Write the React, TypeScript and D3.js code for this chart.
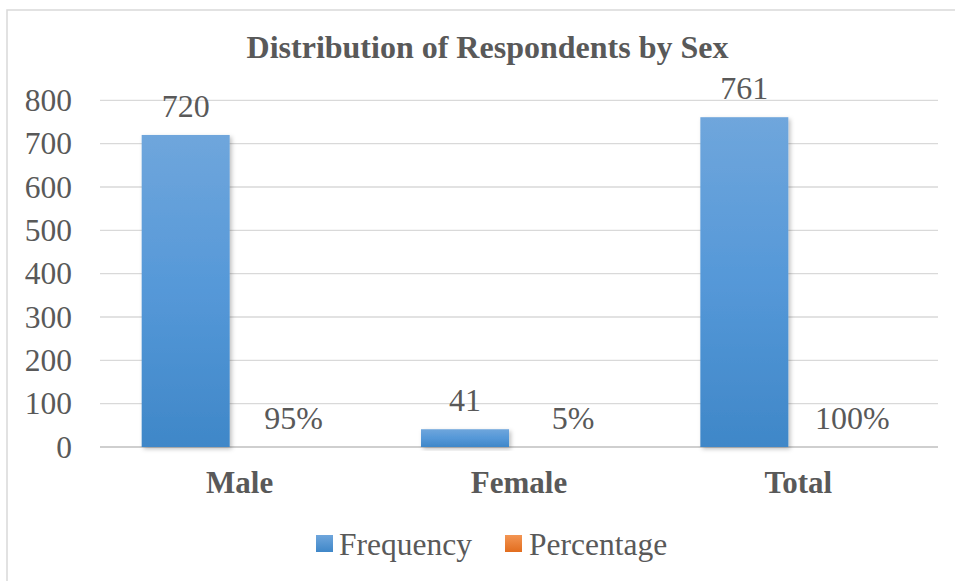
import React, { useEffect } from "react";
import * as d3 from "d3";

const categories = ["Male", "Female", "Total"];
const seriesNames = ["Frequency", "Percentage"];
const frequency = [720, 41, 761];
const percentage = [0.95, 0.05, 1.0];
const percentageLabels = ["95%", "5%", "100%"];
const yTicks = [0, 100, 200, 300, 400, 500, 600, 700, 800];
const title = "Distribution of Respondents by Sex";

const W = 955;
const H = 581;
const FONT = "Liberation Serif";
const TEXT = "#595959";

export default function App() {
  useEffect(() => {
    document.body.style.margin = "0";
  }, []);

  const y = d3.scaleLinear().domain([0, 800]).range([447, 100.3]);
  const x0 = d3.scaleBand<string>().domain(categories).range([100, 938]).padding(0);
  const x1 = d3
    .scaleBand<string>()
    .domain(seriesNames)
    .range([0, x0.bandwidth()])
    .paddingInner(0.185)
    .paddingOuter(0.386);

  const series = [
    { name: "Frequency", values: frequency, labels: frequency.map(String), fill: "url(#gBlue)" },
    { name: "Percentage", values: percentage, labels: percentageLabels, fill: "url(#gOrange)" },
  ];

  const txt = { fontFamily: FONT, fill: TEXT } as React.CSSProperties;

  return (
    <svg width={W} height={H} style={{ display: "block" }}>
      <defs>
        <linearGradient id="gBlue" x1="0" y1="0" x2="0" y2="1">
          <stop offset="0%" stopColor="#6fa6dc" />
          <stop offset="50%" stopColor="#5598d8" />
          <stop offset="100%" stopColor="#3f87c8" />
        </linearGradient>
        <linearGradient id="gOrange" x1="0" y1="0" x2="0" y2="1">
          <stop offset="0%" stopColor="#f39553" />
          <stop offset="100%" stopColor="#e26d1e" />
        </linearGradient>
        <linearGradient id="gLegBlue" x1="0" y1="0" x2="0" y2="1">
          <stop offset="0%" stopColor="#6fa6dc" />
          <stop offset="100%" stopColor="#3f87c8" />
        </linearGradient>
        <filter id="shadow" x="-20%" y="-20%" width="140%" height="140%">
          <feDropShadow dx="2" dy="2" stdDeviation="2" floodColor="#000" floodOpacity="0.25" />
        </filter>
      </defs>
      <rect x={0} y={0} width={W} height={H} fill="#fff" />
      <rect x={7} y={10} width={W + 10} height={H + 10} fill="#fff" stroke="#d9d9d9" strokeWidth={1.5} />

      <text x={487.5} y={58} textAnchor="middle" fontSize={32} fontWeight="bold" style={txt}>
        {title}
      </text>

      {/* percentage bars (tiny), drawn beneath the gridlines */}
      {categories.map((c, i) => (
        <rect
          key={"p" + c}
          x={(x0(c) as number) + (x1("Percentage") as number)}
          y={y(percentage[i])}
          width={x1.bandwidth()}
          height={y(0) - y(percentage[i])}
          fill="url(#gOrange)"
        />
      ))}

      {yTicks.map((t) => (
        <g key={t}>
          <line
            x1={100}
            x2={938}
            y1={y(t)}
            y2={y(t)}
            stroke={t === 0 ? "#cfcfcf" : "#d9d9d9"}
            strokeWidth={t === 0 ? 2 : 1.3}
          />
          <text x={72} y={y(t)} dy="0.34em" textAnchor="end" fontSize={31.5} style={txt}>
            {t}
          </text>
        </g>
      ))}

      {categories.map((c, i) => (
        <g key={c} transform={`translate(${x0(c)},0)`}>
          <rect
            x={x1("Frequency")}
            y={y(frequency[i])}
            width={x1.bandwidth()}
            height={y(0) - y(frequency[i])}
            fill="url(#gBlue)"
            filter="url(#shadow)"
          />
          {series.map((s) => (
            <text
              key={s.name}
              x={(x1(s.name) as number) + x1.bandwidth() / 2}
              y={y(s.values[i]) - 18}
              textAnchor="middle"
              fontSize={32}
              style={txt}
            >
              {s.labels[i]}
            </text>
          ))}
          <text
            x={x0.bandwidth() / 2}
            y={493}
            textAnchor="middle"
            fontSize={31}
            fontWeight="bold"
            style={txt}
          >
            {c}
          </text>
        </g>
      ))}

      <g>
        <rect x={316} y={535} width={17} height={17} fill="url(#gLegBlue)" />
        <text x={339} y={555} fontSize={31.5} style={txt}>
          {seriesNames[0]}
        </text>
        <rect x={505} y={535} width={17} height={17} fill="url(#gOrange)" />
        <text x={529} y={555} fontSize={31.5} style={txt}>
          {seriesNames[1]}
        </text>
      </g>
    </svg>
  );
}
